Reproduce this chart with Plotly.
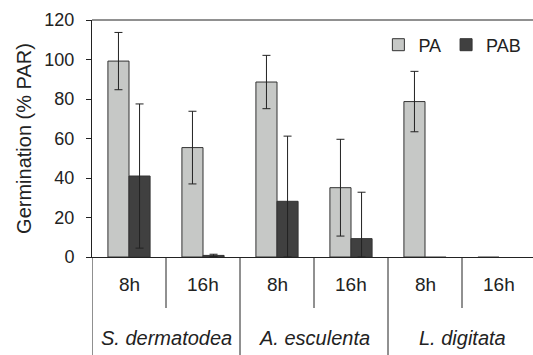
import plotly.graph_objects as go

# ---- data ----
species = ["S. dermatodea", "A. esculenta", "L. digitata"]
photoperiods = ["8h", "16h"]
series_names = ["PA", "PAB"]

pa_values = [99.2, 55.4, 88.6, 35.1, 78.7, -0.5]
pa_errors = [14.5, 18.4, 13.5, 24.5, 15.3, 0.0]
pab_values = [41.0, 0.8, 28.2, 9.3, -0.5, None]
pab_errors = [36.5, 0.6, 33.0, 23.5, 0.0, None]

y_ticks = [0, 20, 40, 60, 80, 100, 120]

# ---- build figure ----
categories = [f"{s} {p}" for s in species for p in photoperiods]


def err_minus(vals, errs):
    out = []
    for v, e in zip(vals, errs):
        if v is None or e is None:
            out.append(None)
        else:
            out.append(min(e, max(v, 0)))
    return out


fig = go.Figure()
fig.add_trace(go.Bar(
    name=series_names[0], x=categories, y=pa_values,
    marker=dict(color="#c6c8c6", line=dict(color="#333333", width=1)),
    error_y=dict(type="data", symmetric=False, array=pa_errors,
                 arrayminus=err_minus(pa_values, pa_errors),
                 color="#222222", thickness=1, width=4),
    cliponaxis=False,
))
fig.add_trace(go.Bar(
    name=series_names[1], x=categories, y=pab_values,
    marker=dict(color="#404040", line=dict(color="#333333", width=1)),
    error_y=dict(type="data", symmetric=False, array=pab_errors,
                 arrayminus=err_minus(pab_values, pab_errors),
                 color="#222222", thickness=1, width=4),
    cliponaxis=False,
))

W, H = 533, 355
ML, MR, MT, MB = 92, 0, 20, 98
plot_w = W - ML - MR
plot_h = H - MT - MB
cat_px = 74.0
x_max = -0.5 + plot_w / cat_px


def ypix_to_paper(py):
    return (H - MB - py) / plot_h


shapes = []
# top frame line
shapes.append(dict(type="line", xref="paper", yref="paper", x0=0, x1=1, y0=1, y1=1,
                   line=dict(color="#222222", width=1)))
# dividers below the axis
n = len(categories)
for b in range(n + 1):
    xb = b - 0.5
    if xb > x_max:
        continue
    if b % 2 == 0:
        y_end = ypix_to_paper(H + 2)
    else:
        y_end = ypix_to_paper(308)
    shapes.append(dict(type="line", xref="x", yref="paper", x0=xb, x1=xb, y0=0, y1=y_end,
                       line=dict(color="#222222", width=1)))

annotations = []
for i, cat in enumerate(categories):
    annotations.append(dict(x=i, y=ypix_to_paper(284), xref="x", yref="paper",
                            text=photoperiods[i % 2], showarrow=False,
                            xanchor="center", yanchor="middle",
                            font=dict(size=19, color="#222222")))
for j, s in enumerate(species):
    annotations.append(dict(x=2 * j + 0.5, y=ypix_to_paper(338), xref="x", yref="paper",
                            text=f"<i>{s}</i>", showarrow=False,
                            xanchor="center", yanchor="middle",
                            font=dict(size=20, color="#222222")))

fig.update_layout(
    width=W, height=H,
    margin=dict(l=ML, r=MR, t=MT, b=MB, pad=0),
    paper_bgcolor="white", plot_bgcolor="white",
    font=dict(family="Liberation Sans, Arial, sans-serif", color="#222222"),
    barmode="group", bargap=0.43, bargroupgap=0.0,
    showlegend=True,
    legend=dict(orientation="h", x=0.985, xanchor="right", y=ypix_to_paper(45), yanchor="middle",
                font=dict(size=18), bgcolor="rgba(0,0,0,0)", itemwidth=30,
                tracegroupgap=0),
    shapes=shapes,
    annotations=annotations,
    xaxis=dict(type="category", range=[-0.5, x_max], showticklabels=False, ticks="",
               showline=True, linecolor="#222222", linewidth=1, showgrid=False,
               zeroline=False, fixedrange=True),
    yaxis=dict(range=[0, 120], tickvals=y_ticks, ticks="outside", ticklen=5,
               tickcolor="#222222", showline=True, linecolor="#222222", linewidth=1,
               showgrid=False, zeroline=False, tickfont=dict(size=18),
               ticklabelstandoff=8,
               title=dict(text="Germination (% PAR)", font=dict(size=20), standoff=7)),
)

fig.write_html("out.html")
